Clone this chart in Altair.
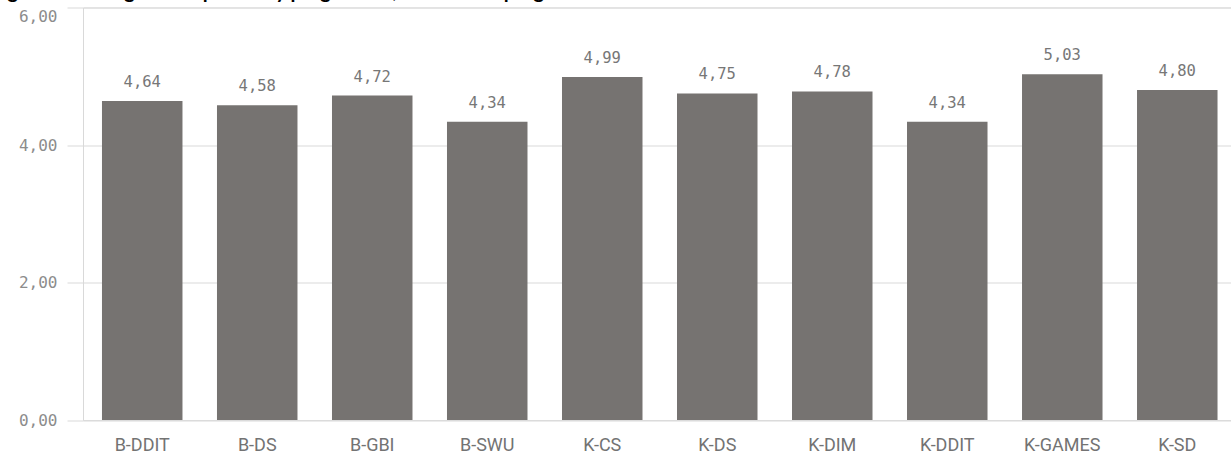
import altair as alt
import pandas as pd

TITLE = "Figure 5: Average score per study programme, mean of all programmes"
programmes = ["B-DDIT", "B-DS", "B-GBI", "B-SWU", "K-CS", "K-DS", "K-DIM", "K-DDIT", "K-GAMES", "K-SD"]
scores = [4.64, 4.58, 4.72, 4.34, 4.99, 4.75, 4.78, 4.34, 5.03, 4.80]
y_ticks = [0, 2, 4, 6]

df = pd.DataFrame({
    "programme": programmes,
    "score": scores,
    "label": [f"{v:.2f}".replace(".", ",") for v in scores],
})

GRID = "#d9d9d9"
BAR = "#767371"

x_enc = alt.X(
    "programme:N",
    sort=programmes,
    title=None,
    scale=alt.Scale(paddingInner=0.3, paddingOuter=0.165, range=[0, 1153.5]),
    axis=alt.Axis(
        labelAngle=0,
        domain=False,
        ticks=False,
        grid=False,
        labelFont="Roboto",
        labelFontSize=18,
        labelFontWeight="normal",
        labelColor="#737373",
        labelPadding=16,
    ),
)
y_enc = alt.Y(
    "score:Q",
    title=None,
    scale=alt.Scale(domain=[0, 6], nice=False, zero=True),
    axis=alt.Axis(
        values=y_ticks,
        labelExpr="replace(format(datum.value, '.2f'), '.', ',')",
        labelFont="DejaVu Sans Mono",
        labelFontSize=16,
        labelColor="#8c8c8c",
        labelPadding=10,
        tickSize=16,
        tickColor=GRID,
        domainColor=GRID,
        gridColor=GRID,
        grid=True,
        labelBaseline={"condition": {"test": "datum.value == 6", "value": "top"}, "value": "middle"},
        labelOffset={"condition": {"test": "datum.value == 6", "value": 1}, "value": 0},
    ),
)

base = alt.Chart(df)
bars = base.mark_bar(color=BAR).encode(x=x_enc, y=y_enc)
labels = base.mark_text(
    font="DejaVu Sans Mono", fontSize=15.5, color="#777777", baseline="alphabetic", dy=-14
).encode(x=alt.X("programme:N", sort=programmes), y="score:Q", text="label:N")

title_df = pd.DataFrame({"t": [TITLE]})
title = alt.Chart(title_df).mark_text(
    align="left", baseline="alphabetic", font="Lato", fontSize=20, fontWeight="bold", color="black"
).encode(x=alt.value(-92), y=alt.value(-9.5), text="t:N")

chart = (
    alt.layer(bars, labels, title)
    .properties(
        width=1148,
        height=412.5,
        autosize=alt.AutoSizeParams(type="none"),
        padding={"left": 83, "top": 7.5, "right": 0, "bottom": 48},
    )
    .configure_view(stroke=None)
    .configure(background="white")
)

chart.save("out.html", embed_options={"renderer": "svg", "actions": False})
